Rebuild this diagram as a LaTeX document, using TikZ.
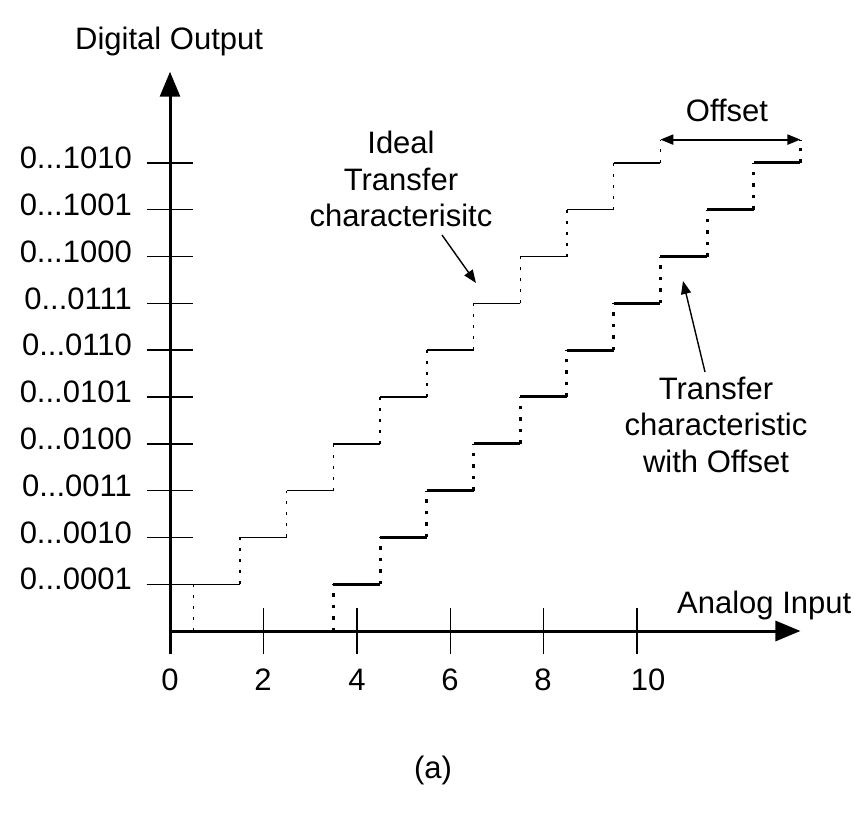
\documentclass[tikz,border=0pt]{standalone}
\usepackage{fontspec}
\setmainfont{Liberation Sans}
\usetikzlibrary{arrows.meta}
\def\threedots{...}
\begin{document}
\begin{tikzpicture}[x=1pt,y=-1pt,
  lbl/.style={font=\fontsize{31}{36.5}\selectfont, inner sep=0pt, text=black},
  axisline/.style={line width=3pt, -{Triangle[length=25pt,width=20pt]}},
  tickline/.style={line width=1.4pt},
  idealstep/.style={line width=1.4pt},
  idealdot/.style={line width=1.4pt, dash pattern=on 3pt off 8pt},
  offstep/.style={line width=3pt},
  offdot/.style={line width=3pt, dash pattern=on 3.5pt off 8pt},
  callout/.style={line width=1.4pt, -{Triangle[length=13pt,width=10pt]}},
  dimarrow/.style={line width=2pt, {Triangle[length=13pt,width=10pt]}-{Triangle[length=13pt,width=10pt]}}
]
\useasboundingbox (0,0) rectangle (868,818);
\begin{scope}[shift={(170,631)}, x=46.7pt, y=46.8pt]
  % origin and axes
  \coordinate (O) at (0,0);
  \coordinate (ytop) at (0,11.95);
  \coordinate (ybot) at (0,-0.5);
  \coordinate (xend) at (13.5,0);
  % x ticks
  \foreach \n in {2,4,6,8,10} \draw[tickline] (\n,-0.5) -- (\n,0.5);
  % y ticks
  \foreach \k in {1,...,10} \draw[tickline] (-0.5,\k) -- (0.5,\k);
  % ideal staircase
  \foreach \k in {1,...,10} {
    \draw[idealdot] (\k-0.5,\k-1) -- (\k-0.5,\k);
    \draw[idealstep] (\k-0.5,\k) -- (\k+0.5,\k);
  }
  \draw[idealstep] (-0.5,1) -- (0.5,1);
  \coordinate (iA) at (10.5,10);
  \coordinate (iB) at (10.5,10.5);
  \draw[idealdot] (iA) -- (iB);
  % offset staircase
  \foreach \k in {1,...,10} {
    \draw[offdot] (\k+2.5,\k-1) -- (\k+2.5,\k);
    \draw[offstep] (\k+2.5,\k) -- (\k+3.5,\k);
  }
  \coordinate (oA) at (13.5,10);
  \coordinate (oB) at (13.5,10.5);
  \draw[offdot] (oA) -- (oB);
  \draw[dimarrow] (iB) -- (oB);
  % axes on top
  \draw[axisline] (ybot) -- (ytop);
  \draw[axisline] (O) -- (xend);
\end{scope}
% y labels
\foreach \k/\t in {1/0001,2/0010,3/0011,4/0100,5/0101,6/0110,7/0111,8/1000,9/1001,10/1010}
  \node[lbl, anchor=east] (yl\k) at (132,{631-46.8*\k-5}) {0\threedots\t};
% x labels
\node[lbl, anchor=base] (x0) at (170,690) {0};
\node[lbl, anchor=base] (x2) at (263,690) {2};
\node[lbl, anchor=base] (x4) at (357,690) {4};
\node[lbl, anchor=base] (x6) at (450,690) {6};
\node[lbl, anchor=base] (x8) at (543,690) {8};
\node[lbl, anchor=base] (x10) at (648,690) {10};
% axis titles
\node[lbl, anchor=base west] (ytitle) at (75,50) {Digital Output};
\node[lbl, anchor=base west] (xtitle) at (677,613) {Analog Input};
% offset label
\node[lbl, anchor=base] (offlbl) at (727,122) {Offset};
% ideal label (anchor at baseline of last line)
\node[lbl, anchor=base, align=center] (ideal) at (401,227) {Ideal\\Transfer\\characterisitc};
\coordinate (ideal from) at (442,235);
\coordinate (ideal to) at (476,283);
\draw[callout] (ideal from) -- (ideal to);
% offset characteristic label
\node[lbl, anchor=base, align=center] (offc) at (716,472) {Transfer\\characteristic\\with Offset};
\coordinate (offc from) at (705,372);
\coordinate (offc to) at (683,281);
\draw[callout] (offc from) -- (offc to);
% caption
\node[lbl, anchor=base] (cap) at (433,778) {(a)};
\end{tikzpicture}
\end{document}
